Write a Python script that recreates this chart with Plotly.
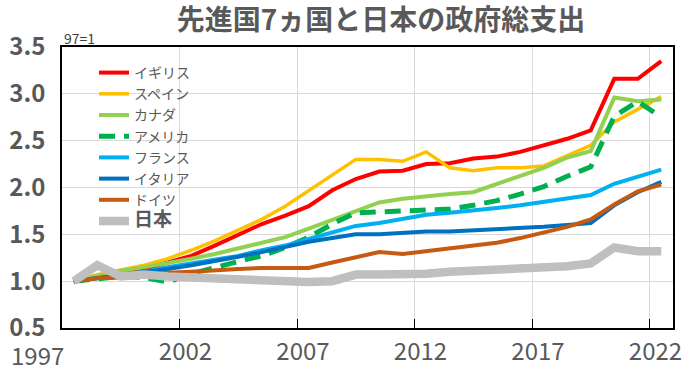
import plotly.graph_objects as go

years = list(range(1997, 2023))

uk = [1.00, 1.05, 1.10, 1.13, 1.20, 1.27, 1.38, 1.49, 1.61, 1.70, 1.80, 1.97, 2.09,
      2.17, 2.18, 2.25, 2.26, 2.31, 2.33, 2.38, 2.45, 2.52, 2.61, 3.16, 3.16, 3.35]
spain = [1.00, 1.07, 1.12, 1.17, 1.24, 1.33, 1.43, 1.54, 1.66, 1.80, 1.97, 2.13, 2.30,
         2.30, 2.28, 2.38, 2.21, 2.18, 2.21, 2.21, 2.23, 2.34, 2.45, 2.70, 2.84, 2.97]
canada = [1.00, 1.06, 1.11, 1.15, 1.19, 1.24, 1.29, 1.35, 1.41, 1.47, 1.56, 1.65, 1.75,
          1.84, 1.88, 1.91, 1.93, 1.95, 2.04, 2.12, 2.21, 2.32, 2.39, 2.96, 2.92, 2.94]
usa = [1.00, 1.02, 1.05, 1.04, 0.99, 1.08, 1.15, 1.21, 1.27, 1.36, 1.47, 1.61, 1.73,
       1.74, 1.74, 1.75, 1.77, 1.81, 1.86, 1.93, 2.01, 2.12, 2.22, 2.76, 2.92, 2.75]
france = [1.00, 1.03, 1.06, 1.10, 1.15, 1.19, 1.23, 1.27, 1.33, 1.38, 1.45, 1.52, 1.59,
          1.62, 1.66, 1.71, 1.73, 1.75, 1.78, 1.81, 1.85, 1.88, 1.92, 2.04, 2.11, 2.19]
italy = [1.00, 1.03, 1.06, 1.09, 1.13, 1.17, 1.21, 1.26, 1.31, 1.37, 1.42, 1.46, 1.50,
         1.50, 1.52, 1.53, 1.53, 1.54, 1.55, 1.56, 1.58, 1.60, 1.62, 1.81, 1.95, 2.06]
germany = [1.00, 1.03, 1.04, 1.07, 1.09, 1.10, 1.12, 1.13, 1.14, 1.14, 1.14, 1.20, 1.26,
           1.31, 1.29, 1.32, 1.35, 1.37, 1.41, 1.46, 1.52, 1.58, 1.66, 1.82, 1.96, 2.03]
japan = [1.00, 1.17, 1.05, 1.07, 1.05, 1.04, 1.02, 1.00, 1.00, 1.00, 0.99, 1.00, 1.07,
         1.07, 1.07, 1.08, 1.10, 1.11, 1.13, 1.14, 1.14, 1.16, 1.19, 1.36, 1.32, 1.32]

names = ["イギリス", "スペイン", "カナダ", "アメリカ", "フランス", "イタリア", "ドイツ", "日本"]
values = [uk, spain, canada, usa, france, italy, germany, japan]
colors = ["#FF0000", "#FFC000", "#92D050", "#00B050", "#00B0F0", "#0070C0", "#C55A11", "#BFBFBF"]
widths = [4, 3.5, 4, 5, 4, 4, 4, 8.5]
dashes = ["solid", "solid", "solid", "16px,9px", "solid", "solid", "solid", "solid"]

x_tick_vals = [2001.5, 2006.5, 2011.5, 2016.5, 2021.5]
x_tick_text = ["2002", "2007", "2012", "2017", "2022"]
first_label = "1997"

fig = go.Figure()
for n, v, c, w, d in zip(names, values, colors, widths, dashes):
    label = n
    if n == "日本":
        label = "<b><span style='font-size:19px'>日本</span></b>"
    fig.add_trace(go.Scatter(
        x=years, y=v, mode="lines", name=label,
        line=dict(color=c, width=w, dash=d),
    ))

font_family = "Noto Sans CJK JP"
W, H = 689, 376
L, R, T, B = 62, 16, 47, 48
pw = W - L - R
ph = H - T - B

fig.update_layout(
    width=W, height=H,
    margin=dict(l=L, r=R, t=T, b=B, autoexpand=False),
    paper_bgcolor="white", plot_bgcolor="white",
    font=dict(family=font_family, color="#595959"),
    title=dict(text="<b>先進国7ヵ国と日本の政府総支出</b>",
               x=381 / W, xanchor="center", y=1 - 20 / H, yanchor="middle",
               yref="container", font=dict(size=28, color="#595959")),
    showlegend=True,
    legend=dict(x=(94 - L) / pw, xanchor="left", y=(H - B - 57) / ph, yanchor="top",
                bgcolor="rgba(0,0,0,0)", font=dict(size=14, color="#595959"),
                tracegroupgap=0),
    xaxis=dict(range=[1996.5, 2022.5], tickvals=x_tick_vals, ticktext=x_tick_text,
               automargin=False,
               showgrid=True, gridcolor="#D9D9D9", gridwidth=1,
               ticks="inside", ticklen=9, tickcolor="black",
               showline=True, linecolor="black", linewidth=1.5, mirror=True,
               zeroline=False, ticklabelshift=6, ticklabelstandoff=1,
               tickfont=dict(size=24, color="#595959")),
    yaxis=dict(range=[0.5, 3.5], dtick=0.5, tickformat=".1f",
               automargin=False,
               showgrid=True, gridcolor="#D9D9D9", gridwidth=1,
               showline=True, linecolor="black", linewidth=1.5, mirror=True,
               zeroline=False, ticks="", ticklabelstandoff=10,
               tickfont=dict(size=24, color="#595959", weight="bold")),
    annotations=[
        dict(text=first_label, xref="paper", yref="paper",
             x=(37 - L) / pw, y=-26 / ph, xanchor="center", yanchor="middle",
             showarrow=False, font=dict(size=24, color="#595959")),
        dict(text="97=1", xref="paper", yref="paper", x=0, xanchor="left",
             y=1 + 9 / ph, yanchor="middle", showarrow=False,
             font=dict(size=14, color="#404040")),
    ],
)

fig.write_html("out.html", config={"displayModeBar": False},
               post_script="document.body.style.margin='0px';")
